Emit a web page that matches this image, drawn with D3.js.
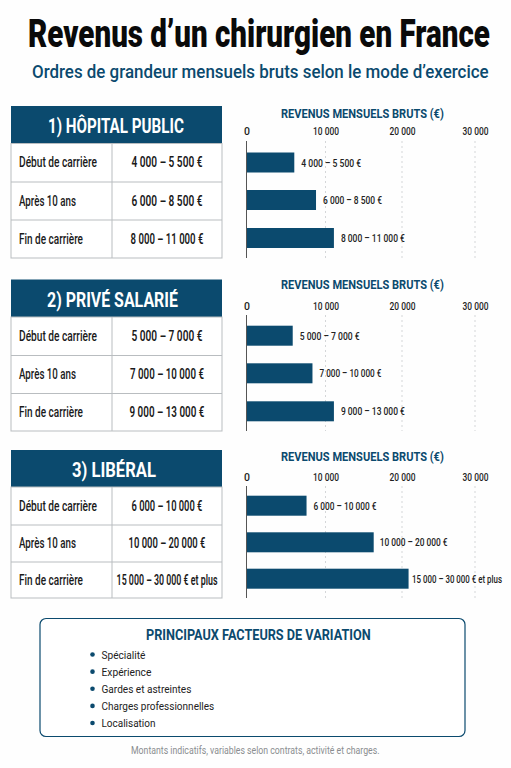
<!DOCTYPE html>
<html><head><meta charset="utf-8">
<style>html,body{margin:0;padding:0;background:#fefefe}svg{display:block}text{font-family:Roboto,sans-serif}</style>
<script src="https://cdnjs.cloudflare.com/ajax/libs/d3/7.8.5/d3.min.js"></script></head>
<body><svg id="c" width="511" height="768"></svg>
<script>
const rowLabels=["Début de carrière","Après 10 ans","Fin de carrière"];
const sectionTitles=["1) HÔPITAL PUBLIC","2) PRIVÉ SALARIÉ","3) LIBÉRAL"];
const rangesHopital=["4 000 – 5 500 €","6 000 – 8 500 €","8 000 – 11 000 €"];
const rangesPrive=["5 000 – 7 000 €","7 000 – 10 000 €","9 000 – 13 000 €"];
const rangesLiberal=["6 000 – 10 000 €","10 000 – 20 000 €","15 000 – 30 000 € et plus"];
const barsHopital=[6050,8800,11100];
const barsPrive=[5850,8350,11100];
const barsLiberal=[7600,16300,20900];
const axisTicks=[0,10000,20000,30000];
const factors=["Spécialité","Expérience","Gardes et astreintes","Charges professionnelles","Localisation"];

const NAVY="#0b4a6e";
const svg=d3.select("#c");
const fmt=v=>v===0?"0":d3.format(",")(v).replace(/,/g," ");
// Condensed look: squeeze real text horizontally to a target width.
function put(parent,str,x0,y,size,weight,fill,w,anchor){
 const t=parent.append("text").attr("font-size",size).attr("font-weight",weight).attr("fill",fill).attr("text-anchor",anchor||"start").text(str);
 const len=t.node().getComputedTextLength();
 t.attr("transform",`translate(${x0},${y}) scale(${w/len},1)`);
 return t;
}

put(svg,"Revenus d’un chirurgien en France",28,47,39,900,"#0a0a0a",462);
put(svg,"Ordres de grandeur mensuels bruts selon le mode d’exercice",32,78,18.5,500,NAVY,457);

const x=d3.scaleLinear().domain(axisTicks).range([246.5,325.5,402,475]);

const layouts=[
 {title:sectionTitles[0],ranges:rangesHopital,bars:barsHopital,top:106,rows:[143.5,182,220,258],tw:136,tx:48,chartT:113,tickY:135,axisTop:141,barY:[152.5,190,228],gap:[7,7,7]},
 {title:sectionTitles[1],ranges:rangesPrive,bars:barsPrive,top:279.5,rows:[317,355.5,393.5,431],tw:131,tx:47,chartT:284,tickY:310,axisTop:315,barY:[325.7,363.3,401.3],gap:[7,7,7]},
 {title:sectionTitles[2],ranges:rangesLiberal,bars:barsLiberal,top:450,rows:[487,525,562,598],tw:84,tx:72,chartT:456,tickY:481,axisTop:486,barY:[495.7,532.3,568.7],gap:[7,6,3.5]}
];
const labelW=[78,57,64];
const rangeW=[[71,71,73],[71,74,75],[71,77,101]];
const valW=[[60,59,64],[60,62,64],[63,68,90]];
layouts.forEach((L,i)=>{
 const g=svg.append("g");
 g.append("rect").attr("x",11).attr("y",L.top).attr("width",211).attr("height",L.rows[0]-L.top).attr("fill",NAVY);
 put(g,L.title,L.tx,L.rows[0]-10.5,21,700,"#fff",L.tw);
 const bottom=L.rows[3];
 g.append("rect").attr("x",11).attr("y",L.rows[0]).attr("width",211).attr("height",bottom-L.rows[0]).attr("fill","#fff").attr("stroke","#b9bdc0").attr("stroke-width",1);
 g.append("line").attr("x1",112).attr("x2",112).attr("y1",L.rows[0]).attr("y2",bottom).attr("stroke","#b9bdc0");
 [1,2].forEach(k=>g.append("line").attr("x1",11).attr("x2",222).attr("y1",L.rows[k]).attr("y2",L.rows[k]).attr("stroke","#b9bdc0"));
 rowLabels.forEach((t,k)=>{
  const cy=(L.rows[k]+L.rows[k+1])/2+4.5;
  put(g,t,19,cy,14,500,"#1a1a1a",labelW[k]);
  put(g,L.ranges[k],167,cy,14,600,"#1a1a1a",rangeW[i][k],"middle");
 });
 const c=svg.append("g");
 put(c,"REVENUS MENSUELS BRUTS (€)",281,L.chartT+4.5,12.5,700,NAVY,163);
 axisTicks.slice(1).forEach(t=>c.append("line").attr("x1",x(t)).attr("x2",x(t)).attr("y1",L.axisTop).attr("y2",bottom).attr("stroke","#d4d6d8").attr("stroke-dasharray","2 3"));
 const ax=d3.axisTop(x).tickValues(axisTicks).tickSize(0).tickPadding(0).tickFormat(fmt);
 const ag=c.append("g").attr("transform",`translate(0,${L.tickY})`).call(ax);
 ag.select(".domain").remove();
 ag.selectAll("text").attr("dy",0).attr("y",0).attr("font-size",10.5).attr("font-weight",500).attr("fill","#1f1f1f").style("font-family","Roboto,sans-serif")
   .attr("transform",function(d){return d===0?null:`scale(${26/this.getComputedTextLength()},1)`;});
 c.selectAll(".bar").data(L.bars).join("rect").attr("class","bar").attr("x",x(0)).attr("y",(d,k)=>L.barY[k]).attr("width",d=>x(d)-x(0)).attr("height",20).attr("fill",NAVY);
 c.append("line").attr("x1",x(0)).attr("x2",x(0)).attr("y1",L.axisTop).attr("y2",bottom).attr("stroke","#555").attr("stroke-width",1);
 L.bars.forEach((d,k)=>put(c,L.ranges[k],x(d)+L.gap[k],L.barY[k]+14,10,500,"#222",valW[i][k]));
});

const b=svg.append("g");
b.append("rect").attr("x",40).attr("y",618.5).attr("width",425).attr("height",118).attr("rx",6).attr("fill","#fff").attr("stroke",NAVY).attr("stroke-width",1.2);
put(b,"PRINCIPAUX FACTEURS DE VARIATION",146,639.5,15,700,NAVY,225);
const fy=d3.scalePoint().domain(factors).range([654.5,723]);
const factorW=[44,50,90,113,54];
b.selectAll("circle").data(factors).join("circle").attr("cx",92.5).attr("cy",d=>fy(d)).attr("r",2.3).attr("fill",NAVY);
factors.forEach((d,k)=>put(b,d,101.5,fy(d)+4,11.5,400,"#222",factorW[k]));
put(svg,"Montants indicatifs, variables selon contrats, activité et charges.",131,754,10,400,"#8a8d90",249);
</script></body></html>
